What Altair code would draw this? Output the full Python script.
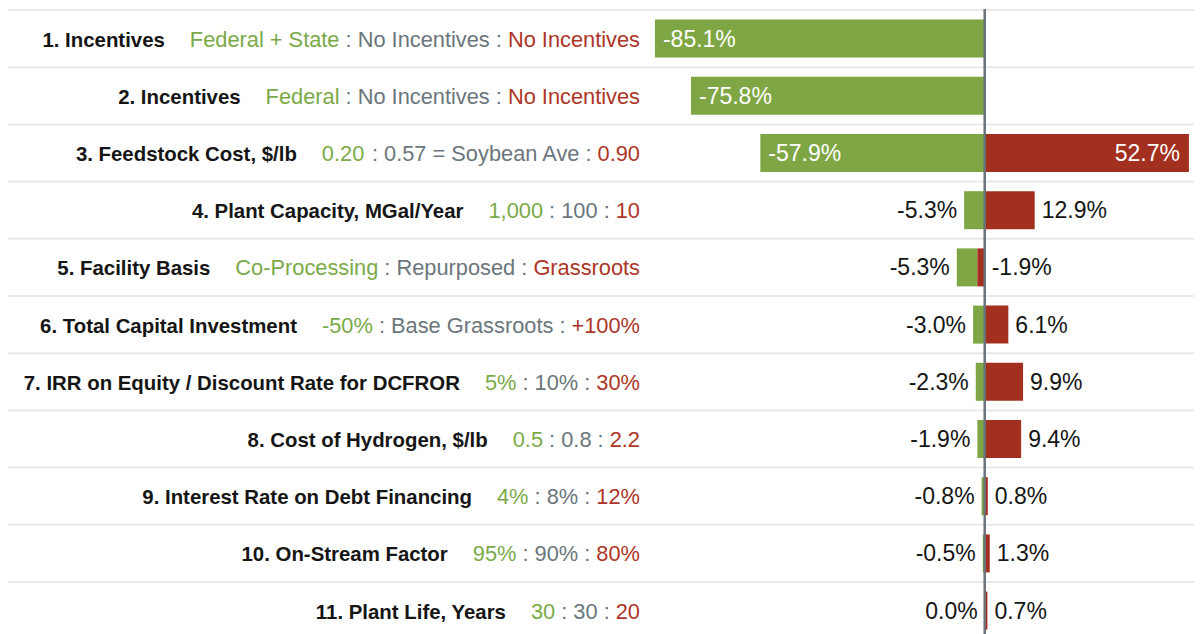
import altair as alt
import pandas as pd

# ---------------- data ----------------
names = ["1. Incentives", "2. Incentives", "3. Feedstock Cost, $/lb",
         "4. Plant Capacity, MGal/Year", "5. Facility Basis",
         "6. Total Capital Investment", "7. IRR on Equity / Discount Rate for DCFROR",
         "8. Cost of Hydrogen, $/lb", "9. Interest Rate on Debt Financing",
         "10. On-Stream Factor", "11. Plant Life, Years"]
low_txt = ["Federal + State", "Federal", "0.20", "1,000", "Co-Processing", "-50%",
           "5%", "0.5", "4%", "95%", "30"]
base_txt = ["No Incentives", "No Incentives", "0.57 = Soybean Ave", "100", "Repurposed",
            "Base Grassroots", "10%", "0.8", "8%", "90%", "30"]
high_txt = ["No Incentives", "No Incentives", "0.90", "10", "Grassroots", "+100%",
            "30%", "2.2", "12%", "80%", "20"]
low_val = [-85.1, -75.8, -57.9, -5.3, -5.3, -3.0, -2.3, -1.9, -0.8, -0.5, 0.0]
high_val = [None, None, 52.7, 12.9, -1.9, 6.1, 9.9, 9.4, 0.8, 1.3, 0.7]

# ---------------- style ----------------
W, H = 1186, 626
FONT = "Liberation Sans"
GREEN_BAR, RED_BAR = "#7fa644", "#a32f1f"
GREEN_TXT, RED_TXT, GRAY_TXT = "#7aaa48", "#ad3528", "#6b767c"
BLACK = "#151515"
S_REG, S_BOLD, S_VAL = 21.8, 20.4, 23
ZERO_PX, PX_PER = 976.7, 3.875
BAND0, BAND = 2.0, 57.2
TEXT_RIGHT = 632.0
NAME_GAP = 25

# Arial / Liberation Sans advance widths (1/1000 em)
def _table(upper, lower, punct):
    t = {}
    for c, w in zip("ABCDEFGHIJKLMNOPQRSTUVWXYZ", upper):
        t[c] = w
    for c, w in zip("abcdefghijklmnopqrstuvwxyz", lower):
        t[c] = w
    for d in "0123456789":
        t[d] = 556
    t.update(punct)
    return t

REG = _table([667, 667, 722, 722, 667, 611, 778, 722, 278, 500, 667, 556, 833, 722, 778, 667, 778, 722, 667, 611, 722, 667, 944, 667, 667, 611],
             [556, 556, 500, 556, 556, 278, 556, 556, 222, 222, 500, 222, 833, 556, 556, 556, 556, 333, 500, 278, 556, 500, 722, 500, 500, 500],
             {" ": 278, "$": 556, "%": 889, "+": 584, ",": 278, "-": 333, ".": 278, "/": 278, ":": 278, "=": 584})
BOLD = _table([722, 722, 722, 722, 667, 611, 778, 722, 278, 556, 722, 611, 833, 722, 778, 667, 778, 722, 667, 611, 722, 667, 944, 667, 667, 611],
              [556, 611, 556, 611, 556, 333, 611, 611, 278, 278, 556, 278, 889, 611, 611, 611, 611, 389, 556, 333, 611, 556, 778, 556, 556, 500],
              {" ": 278, "$": 556, "%": 889, "+": 584, ",": 278, "-": 333, ".": 278, "/": 278, ":": 333, "=": 584})

def tw(s, size, bold=False):
    t = BOLD if bold else REG
    return sum(t.get(c, 556) for c in s) * size / 1000.0

# row label layout (right to left)
sp = tw(" ", S_REG)
lab_rows = []
for i, n in enumerate(names):
    gray = ": " + base_txt[i] + " :"
    red_x = TEXT_RIGHT
    gray_x = red_x - tw(high_txt[i], S_REG) - sp
    green_x = gray_x - tw(gray, S_REG) - sp
    name_x = green_x - tw(low_txt[i], S_REG) - NAME_GAP
    lab_rows.append(dict(name=n, name_x=name_x, green=low_txt[i], green_x=green_x,
                         gray=gray, gray_x=gray_x, red=high_txt[i], red_x=red_x))
lab_df = pd.DataFrame(lab_rows)

# bars (stacked: high closest to zero, then low)
bar_rows = []
for i, n in enumerate(names):
    bar_rows.append(dict(name=n, series="low", value=low_val[i], ord=1))
    if high_val[i] is not None:
        bar_rows.append(dict(name=n, series="high", value=high_val[i], ord=0))
bar_df = pd.DataFrame(bar_rows)

# value labels
def fmt(v):
    s = f"{v:.1f}%"
    return "0.0%" if s == "-0.0%" else s

val_rows = []
for i, n in enumerate(names):
    lo, hi = low_val[i], high_val[i]
    end = lo + (hi if (hi is not None and hi < 0 and lo < 0) else 0)
    val_rows.append(dict(name=n, txt=fmt(lo), anchor=end,
                         kind="gin" if abs(lo) >= 40 else "gout"))
    if hi is not None:
        if abs(hi) >= 40:
            val_rows.append(dict(name=n, txt=fmt(hi), anchor=hi, kind="rin"))
        else:
            val_rows.append(dict(name=n, txt=fmt(hi), anchor=max(hi, 0), kind="rout"))
val_df = pd.DataFrame(val_rows)

# ---------------- scales ----------------
xscale = alt.Scale(domain=[-ZERO_PX / PX_PER, (W - ZERO_PX) / PX_PER], nice=False, zero=False)
yscale = alt.Scale(range=[BAND0, BAND0 + BAND * len(names)], paddingInner=0, paddingOuter=0)
Y = alt.Y("name:N", sort=names, scale=yscale, axis=None)

sep = alt.Chart(pd.DataFrame({"name": names})).mark_rule(color="#e9e9e9", strokeWidth=2).encode(
    y=alt.Y("name:N", sort=names, scale=yscale, axis=None, bandPosition=0),
    x=alt.value(0), x2=alt.value(W))

bars = alt.Chart(bar_df).mark_bar(size=38).encode(
    y=Y,
    x=alt.X("value:Q", stack="zero", scale=xscale, axis=None),
    color=alt.Color("series:N", scale=alt.Scale(domain=["low", "high"], range=[GREEN_BAR, RED_BAR]), legend=None),
    order=alt.Order("ord:Q"))

zero = alt.Chart(pd.DataFrame({"z": [0]})).mark_rule(color="#6b737a", strokeWidth=2.5).encode(
    x=alt.X("z:Q", scale=xscale, axis=None), y=alt.value(1), y2=alt.value(H + 20))

def vtext(kind, align, dx, color):
    return alt.Chart(val_df).transform_filter(alt.datum.kind == kind).mark_text(
        align=align, baseline="alphabetic", dx=dx, dy=8, font=FONT, fontSize=S_VAL, color=color
    ).encode(y=Y, x=alt.X("anchor:Q", scale=xscale, axis=None), text="txt:N")

def ltext(field, xfield, color, bold=False, size=S_REG):
    kw = dict(fontWeight="bold") if bold else {}
    return alt.Chart(lab_df).mark_text(
        align="right", baseline="alphabetic", dy=8, font=FONT, fontSize=size, color=color, **kw
    ).encode(y=Y, x=alt.X(f"{xfield}:Q", scale=None, axis=None), text=f"{field}:N")

chart = alt.layer(
    sep, bars, zero,
    vtext("gin", "left", 8, "white"),
    vtext("gout", "right", -7, BLACK),
    vtext("rin", "right", -9, "white"),
    vtext("rout", "left", 7, BLACK),
    ltext("name", "name_x", BLACK, bold=True, size=S_BOLD),
    ltext("green", "green_x", GREEN_TXT),
    ltext("gray", "gray_x", GRAY_TXT),
    ltext("red", "red_x", RED_TXT),
).resolve_scale(x="independent").properties(
    width=W, height=H, padding=0, autosize=alt.AutoSizeParams(type="none")
).configure_view(stroke=None)

chart.save("out.html", embed_options={"renderer": "svg", "actions": False})
